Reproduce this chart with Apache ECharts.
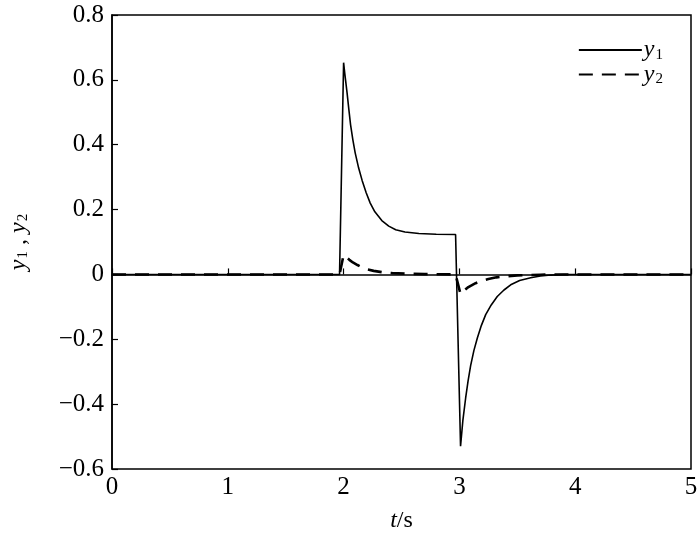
<!DOCTYPE html>
<html>
<head>
<meta charset="utf-8">
<script src="https://cdn.jsdelivr.net/npm/echarts@6/dist/echarts.min.js"></script>
<style>
  html, body { margin: 0; padding: 0; background: #fff; }
  #chart { width: 700px; height: 539px; }
</style>
</head>
<body>
<div id="chart"></div>
<script>
// y1 (solid)
const t1 = [0, 1.965, 2.0, 2.01, 2.02, 2.03, 2.045, 2.06, 2.08, 2.1, 2.13, 2.16, 2.195, 2.23, 2.27, 2.33, 2.39, 2.45, 2.53, 2.65, 2.8, 2.967,
  3.01, 3.03, 3.054, 3.075, 3.097, 3.125, 3.155, 3.19, 3.227, 3.275, 3.327, 3.385, 3.443, 3.52, 3.616, 3.7, 3.79, 3.9, 5.0]
const y1 = [0, 0, 0.653, 0.62, 0.59, 0.56, 0.51, 0.462, 0.415, 0.375, 0.328, 0.29, 0.252, 0.22, 0.193, 0.166, 0.149, 0.138, 0.131, 0.126, 0.124, 0.123,
  -0.53, -0.45, -0.381, -0.328, -0.281, -0.235, -0.196, -0.157, -0.124, -0.094, -0.068, -0.048, -0.032, -0.019, -0.01, -0.005, -0.002, 0, 0]
// y2 (dashed)
const t2 = [0, 1.965, 2.0, 2.02, 2.05, 2.08, 2.12, 2.16, 2.2, 2.26, 2.33, 2.42, 2.55, 2.7, 2.967,
  3.01, 3.04, 3.07, 3.097, 3.14, 3.19, 3.25, 3.32, 3.4, 3.5, 3.6, 3.7, 3.8, 5.0]
const y2 = [0, 0, 0.06, 0.054, 0.045, 0.037, 0.029, 0.022, 0.016, 0.011, 0.007, 0.004, 0.002, 0.001, 0,
  -0.061, -0.05, -0.041, -0.035, -0.027, -0.02, -0.014, -0.009, -0.006, -0.003, -0.002, -0.001, 0, 0]
const xTicks = [0, 5, 1]   // min, max, interval
const yTicks = [-0.6, 0.8, 0.2]

const font = '"Liberation Serif", "Times New Roman", serif'
const pair = (ts, ys) => ts.map((t, i) => [t, ys[i]])
const rich = {
  i: { fontFamily: font, fontStyle: 'italic', fontSize: 24, color: '#000' },
  s: { fontFamily: font, fontSize: 15, color: '#000', padding: [10, 0, 0, 1] },
  n: { fontFamily: font, fontSize: 24, color: '#000' }
}

const chart = echarts.init(document.getElementById('chart'))
const option = {
  animation: false,
  backgroundColor: '#fff',
  grid: {
    left: 112, right: 9, top: 15, bottom: 70,
    outerBoundsMode: 'none',
    containLabel: false,
    show: true, borderColor: '#000', borderWidth: 1.5, backgroundColor: 'transparent'
  },
  legend: {
    orient: 'vertical',
    right: 32,
    top: 33,
    itemWidth: 63,
    itemHeight: 14,
    itemGap: 0,
    data: ['y1', 'y2'],
    itemStyle: { opacity: 0 },
    formatter: name => '{i|y}{s|' + name.slice(1) + '}',
    textStyle: { rich: rich, padding: [0, 0, 0, -3] }
  },
  xAxis: {
    type: 'value',
    min: xTicks[0], max: xTicks[1], interval: xTicks[2],
    name: '{i|t}{n|/s}',
    nameLocation: 'middle',
    nameGap: 40,
    nameTextStyle: { rich: rich },
    axisLine: { lineStyle: { color: '#000', width: 1.5 } },
    axisTick: { inside: true, length: 6, lineStyle: { color: '#000', width: 1.2 } },
    axisLabel: { fontFamily: font, fontSize: 25, color: '#000', margin: 6 },
    splitLine: { show: false }
  },
  yAxis: {
    type: 'value',
    min: yTicks[0], max: yTicks[1], interval: yTicks[2],
    name: '{i|y}{s|1}{n| , }{i|y}{s|2}',
    nameLocation: 'middle',
    nameRotate: 90,
    nameGap: 81,
    nameTextStyle: { rich: rich },
    axisLine: { lineStyle: { color: '#000', width: 1.5 } },
    axisTick: { inside: true, length: 6, lineStyle: { color: '#000', width: 1.2 } },
    axisLabel: {
      fontFamily: font, fontSize: 25, color: '#000', margin: 8,
      formatter: v => (Math.abs(v) < 1e-9 ? '0' : String(+v.toFixed(1)).replace('-', '\u2212'))
    },
    splitLine: { show: false }
  },
  series: [
    {
      name: 'y1', type: 'line', data: pair(t1, y1), symbol: 'none', smooth: false,
      lineStyle: { color: '#000', width: 1.6 }, itemStyle: { color: '#000' }
    },
    {
      name: 'y2', type: 'line', data: pair(t2, y2), symbol: 'none', smooth: false,
      lineStyle: { color: '#000', width: 2.6, type: [14, 9] }, itemStyle: { color: '#000' }
    }
  ]
}
chart.setOption(option)
</script>
</body>
</html>
